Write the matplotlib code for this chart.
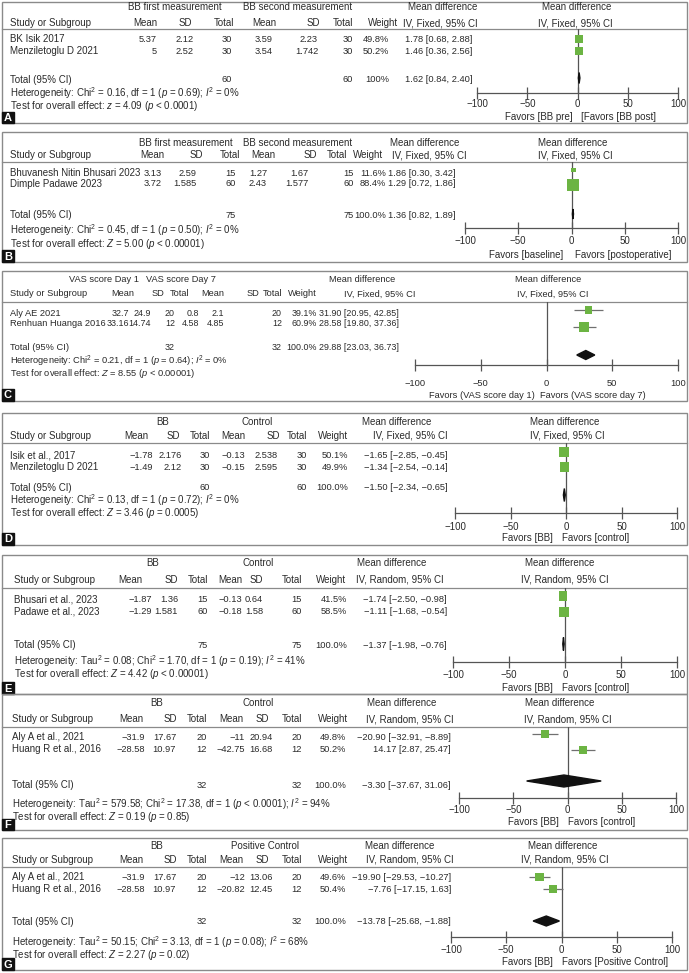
import matplotlib
matplotlib.use('Agg')
import matplotlib.pyplot as plt
from matplotlib.patches import Rectangle, Polygon

plt.rcParams['font.family'] = ['Liberation Sans', 'DejaVu Sans']
plt.rcParams['mathtext.fontset'] = 'custom'
plt.rcParams['mathtext.rm'] = 'Liberation Sans'
plt.rcParams['mathtext.it'] = 'Liberation Sans:italic'
plt.rcParams['mathtext.bf'] = 'Liberation Sans:bold'

# ======================= DATA =======================
# Panel A
a_groups = ["BB first measurement", "BB second measurement"]
a_studies = ["BK Isik 2017", "Menziletoglu D 2021"]
a_mean1 = ["5.37", "5"]
a_sd1 = ["2.12", "2.52"]
a_n1 = [30, 30]
a_mean2 = ["3.59", "3.54"]
a_sd2 = ["2.23", "1.742"]
a_n2 = [30, 30]
a_weight = [49.8, 50.2]
a_md = [1.78, 1.46]
a_lo = [0.68, 0.36]
a_hi = [2.88, 2.56]
a_total = [1.62, 0.84, 2.40]
a_ntot = [60, 60]
a_wtot = "100%"
a_method = "IV, Fixed, 95% CI"
a_favors = ["Favors [BB pre]", "[Favors [BB post]"]
a_het = r"Heterogeneity: Chi$^2$ = 0.16, df = 1 ($p$ = 0.69); $I^2$ = 0%"
a_test = r"Test for overall effect: $z$ = 4.09 ($p$ < 0.0001)"

# Panel B
b_groups = ["BB first measurement", "BB second measurement"]
b_studies = ["Bhuvanesh Nitin Bhusari 2023", "Dimple Padawe 2023"]
b_mean1 = ["3.13", "3.72"]
b_sd1 = ["2.59", "1.585"]
b_n1 = [15, 60]
b_mean2 = ["1.27", "2.43"]
b_sd2 = ["1.67", "1.577"]
b_n2 = [15, 60]
b_weight = [11.6, 88.4]
b_md = [1.86, 1.29]
b_lo = [0.30, 0.72]
b_hi = [3.42, 1.86]
b_total = [1.36, 0.82, 1.89]
b_ntot = [75, 75]
b_wtot = "100.0%"
b_method = "IV, Fixed, 95% CI"
b_favors = ["Favors [baseline]", "Favors [postoperative]"]
b_het = r"Heterogeneity: Chi$^2$ = 0.45, df = 1 ($p$ = 0.50); $I^2$ = 0%"
b_test = r"Test for overall effect: $Z$ = 5.00 ($p$ < 0.00001)"

# Panel C
c_groups = ["VAS score Day 1", "VAS score Day 7"]
c_studies = ["Aly AE 2021", "Renhuan Huanga 2016"]
c_mean1 = ["32.7", "33.16"]
c_sd1 = ["24.9", "14.74"]
c_n1 = [20, 12]
c_mean2 = ["0.8", "4.58"]
c_sd2 = ["2.1", "4.85"]
c_n2 = [20, 12]
c_weight = [39.1, 60.9]
c_md = [31.90, 28.58]
c_lo = [20.95, 19.80]
c_hi = [42.85, 37.36]
c_total = [29.88, 23.03, 36.73]
c_ntot = [32, 32]
c_wtot = "100.0%"
c_method = "IV, Fixed, 95% CI"
c_favors = ["Favors (VAS score day 1)", "Favors (VAS score day 7)"]
c_het = r"Heterogeneity: Chi$^2$ = 0.21, df = 1 ($p$ = 0.64); $I^2$ = 0%"
c_test = r"Test for overall effect: $Z$ = 8.55 ($p$ < 0.00001)"

# Panel D
d_groups = ["BB", "Control"]
d_studies = ["Isik et al., 2017", "Menziletoglu D 2021"]
d_mean1 = ["\u22121.78", "\u22121.49"]
d_sd1 = ["2.176", "2.12"]
d_n1 = [30, 30]
d_mean2 = ["\u22120.13", "\u22120.15"]
d_sd2 = ["2.538", "2.595"]
d_n2 = [30, 30]
d_weight = [50.1, 49.9]
d_md = [-1.65, -1.34]
d_lo = [-2.85, -2.54]
d_hi = [-0.45, -0.14]
d_total = [-1.50, -2.34, -0.65]
d_ntot = [60, 60]
d_wtot = "100.0%"
d_method = "IV, Fixed, 95% CI"
d_favors = ["Favors [BB]", "Favors [control]"]
d_het = r"Heterogeneity: Chi$^2$ = 0.13, df = 1 ($p$ = 0.72); $I^2$ = 0%"
d_test = r"Test for overall effect: $Z$ = 3.46 ($p$ = 0.0005)"

# Panel E
e_groups = ["BB", "Control"]
e_studies = ["Bhusari et al., 2023", "Padawe et al., 2023"]
e_mean1 = ["\u22121.87", "\u22121.29"]
e_sd1 = ["1.36", "1.581"]
e_n1 = [15, 60]
e_mean2 = ["\u22120.13", "\u22120.18"]
e_sd2 = ["0.64", "1.58"]
e_n2 = [15, 60]
e_weight = [41.5, 58.5]
e_md = [-1.74, -1.11]
e_lo = [-2.50, -1.68]
e_hi = [-0.98, -0.54]
e_total = [-1.37, -1.98, -0.76]
e_ntot = [75, 75]
e_wtot = "100.0%"
e_method = "IV, Random, 95% CI"
e_favors = ["Favors [BB]", "Favors [control]"]
e_het = r"Heterogeneity: Tau$^2$ = 0.08; Chi$^2$ = 1.70, df = 1 ($p$ = 0.19); $I^2$ = 41%"
e_test = r"Test for overall effect: $Z$ = 4.42 ($p$ < 0.00001)"

# Panel F
f_groups = ["BB", "Control"]
f_studies = ["Aly A et al., 2021", "Huang R et al., 2016"]
f_mean1 = ["\u221231.9", "\u221228.58"]
f_sd1 = ["17.67", "10.97"]
f_n1 = [20, 12]
f_mean2 = ["\u221211", "\u221242.75"]
f_sd2 = ["20.94", "16.68"]
f_n2 = [20, 12]
f_weight = [49.8, 50.2]
f_md = [-20.90, 14.17]
f_lo = [-32.91, 2.87]
f_hi = [-8.89, 25.47]
f_total = [-3.30, -37.67, 31.06]
f_ntot = [32, 32]
f_wtot = "100.0%"
f_method = "IV, Random, 95% CI"
f_favors = ["Favors [BB]", "Favors [control]"]
f_het = r"Heterogeneity: Tau$^2$ = 579.58; Chi$^2$ = 17.38, df = 1 ($p$ < 0.0001); $I^2$ = 94%"
f_test = r"Test for overall effect: $Z$ = 0.19 ($p$ = 0.85)"

# Panel G
g_groups = ["BB", "Positive Control"]
g_studies = ["Aly A et al., 2021", "Huang R et al., 2016"]
g_mean1 = ["\u221231.9", "\u221228.58"]
g_sd1 = ["17.67", "10.97"]
g_n1 = [20, 12]
g_mean2 = ["\u221212", "\u221220.82"]
g_sd2 = ["13.06", "12.45"]
g_n2 = [20, 12]
g_weight = [49.6, 50.4]
g_md = [-19.90, -7.76]
g_lo = [-29.53, -17.15]
g_hi = [-10.27, 1.63]
g_total = [-13.78, -25.68, -1.88]
g_ntot = [32, 32]
g_wtot = "100.0%"
g_method = "IV, Random, 95% CI"
g_favors = ["Favors [BB]", "Favors [Positive Control]"]
g_het = r"Heterogeneity: Tau$^2$ = 50.15; Chi$^2$ = 3.13, df = 1 ($p$ = 0.08); $I^2$ = 68%"
g_test = r"Test for overall effect: $Z$ = 2.27 ($p$ = 0.02)"

axis_ticks = [-100, -50, 0, 50, 100]

# ======================= LAYOUT (pixels) =======================
W, H = 689, 973
TXT = '#2a2a2a'
GREEN = '#6cb443'
BORDER = '#8a8a8a'

R6 = ['right'] * 6
layouts = {
    'A': dict(fs=7.0, fsn=6.7, box=(2, 123), lab=(112, 123), h1=7, h2=23, sep=29, rows=[39, 51], sq=[39, 51], tot=80, dia=78, dh=5.5,
              het=93, test=106, ax=(477, 678), axy=93, tpad=9, fav=117, favL=573, favR=581, k=1.15,
              sx=10, cols=[157, 194, 232, 273, 318, 353], al=R6, hx=[157, 192, 234, 276, 320, 353],
              wx=389, mdx=405, mdal='left', g=[175, 298], mdh=443, wh=383, ivh=440, mdh2=577, ivh2=575),
    'B': dict(fs=7.0, fsn=6.7, box=(132, 262), lab=(250, 262), h1=143, h2=155, sep=162, rows=[173, 184], sq=[170, 185], tot=215, dia=214, dh=5,
              het=230, test=244, ax=(465, 678), axy=228, tpad=11, fav=255, favL=563, favR=575, k=1.2,
              sx=10, cols=[162, 197, 236, 267, 308, 354], al=R6, hx=[164, 203, 240, 275, 317, 347],
              wx=386, mdx=388, mdal='left', g=[186, 298], mdh=425, wh=368, ivh=429, mdh2=573, ivh2=575),
    'C': dict(fs=6.7, fsn=6.4, box=(271, 401), lab=(389, 401), h1=280, h2=294, sep=302, rows=[313, 324], sq=[310, 327], tot=347, dia=355, dh=4.5,
              het=361, test=374, ax=(415, 678), axy=365, tpad=17, fav=395, favL=535, favR=540, k=1.2,
              sx=10, cols=[129, 151, 175, 199, 224, 282], al=R6,
              hx=[134, 164, 189, 224, 259, 282],
              wx=317, mdx=319, mdal='left', g=[104, 181], mdh=362, wh=302, ivh=380, mdh2=548, ivh2=553),
    'D': dict(fs=7.0, fsn=6.7, box=(413, 545), lab=(533, 545), h1=422, h2=436, sep=443, rows=[456, 467], sq=[452, 467], tot=488, dia=495, dh=6.5,
              het=500, test=513, ax=(455, 677), axy=513, tpad=12, fav=538, favL=553, favR=562, k=1.4,
              sx=10, cols=[153, 182, 210, 245, 278, 307], al=R6, hx=[148, 180, 210, 245, 280, 307],
              wx=348, mdx=448, mdal='right', g=[163, 257], mdh=397, wh=333, ivh=410, mdh2=565, ivh2=567),
    'E': dict(fs=7.0, fsn=6.7, box=(555, 694), lab=(682, 694), h1=563, h2=580, sep=588, rows=[600, 612], sq=[596, 612], tot=645, dia=644, dh=6.5,
              het=661, test=674, ax=(453, 677), axy=662, tpad=11, fav=688, favL=553, favR=562, k=1.3,
              sx=14, cols=[152, 178, 208, 242, 263, 302], al=R6, hx=[142, 178, 208, 242, 263, 302],
              wx=347, mdx=447, mdal='right', g=[153, 258], mdh=392, wh=331, ivh=400, mdh2=560, ivh2=565),
    'F': dict(fs=7.0, fsn=6.7, box=(694, 830), lab=(819, 830), h1=703, h2=719, sep=727, rows=[737, 749], sq=[734, 750], tot=785, dia=781, dh=6,
              het=804, test=817, ax=(459, 676), axy=798, tpad=10, fav=822, favL=559, favR=568, k=1.15,
              sx=12, cols=[145, 176, 207, 245, 273, 302], al=R6, hx=[143, 177, 207, 243, 269, 302],
              wx=346, mdx=451, mdal='right', g=[157, 258], mdh=402, wh=333, ivh=410, mdh2=560, ivh2=568),
    'G': dict(fs=7.0, fsn=6.7, box=(838, 970), lab=(958, 970), h1=846, h2=860, sep=867, rows=[877, 889], sq=[877, 889], tot=922, dia=921, dh=5,
              het=942, test=955, ax=(451, 672), axy=937, tpad=11, fav=962, favL=553, favR=562, k=1.15,
              sx=12, cols=[145, 176, 207, 245, 273, 302], al=R6, hx=[143, 177, 207, 243, 269, 302],
              wx=346, mdx=451, mdal='right', g=[157, 265], mdh=400, wh=333, ivh=410, mdh2=563, ivh2=565),
}

panels = [
    ('A', a_groups, a_studies, a_mean1, a_sd1, a_n1, a_mean2, a_sd2, a_n2, a_weight, a_md, a_lo, a_hi,
     a_total, a_ntot, a_wtot, a_method, a_favors, a_het, a_test),
    ('B', b_groups, b_studies, b_mean1, b_sd1, b_n1, b_mean2, b_sd2, b_n2, b_weight, b_md, b_lo, b_hi,
     b_total, b_ntot, b_wtot, b_method, b_favors, b_het, b_test),
    ('C', c_groups, c_studies, c_mean1, c_sd1, c_n1, c_mean2, c_sd2, c_n2, c_weight, c_md, c_lo, c_hi,
     c_total, c_ntot, c_wtot, c_method, c_favors, c_het, c_test),
    ('D', d_groups, d_studies, d_mean1, d_sd1, d_n1, d_mean2, d_sd2, d_n2, d_weight, d_md, d_lo, d_hi,
     d_total, d_ntot, d_wtot, d_method, d_favors, d_het, d_test),
    ('E', e_groups, e_studies, e_mean1, e_sd1, e_n1, e_mean2, e_sd2, e_n2, e_weight, e_md, e_lo, e_hi,
     e_total, e_ntot, e_wtot, e_method, e_favors, e_het, e_test),
    ('F', f_groups, f_studies, f_mean1, f_sd1, f_n1, f_mean2, f_sd2, f_n2, f_weight, f_md, f_lo, f_hi,
     f_total, f_ntot, f_wtot, f_method, f_favors, f_het, f_test),
    ('G', g_groups, g_studies, g_mean1, g_sd1, g_n1, g_mean2, g_sd2, g_n2, g_weight, g_md, g_lo, g_hi,
     g_total, g_ntot, g_wtot, g_method, g_favors, g_het, g_test),
]


def fnum(v):
    return f"{v:.2f}".replace('-', '\u2212')


def ci_text(m, l, h):
    return f"{fnum(m)} [{fnum(l)}, {fnum(h)}]"


fig = plt.figure(figsize=(W / 100, H / 100), dpi=100)
bg = fig.add_axes([0, 0, 1, 1])
bg.set_xlim(0, W)
bg.set_ylim(H, 0)
bg.axis('off')


def T(x, y, s, fs, ha='left', **kw):
    bg.text(x, y, s, ha=ha, va='center', fontsize=fs, color=kw.pop('color', TXT), **kw)


for (key, groups, studies, m1, s1, n1, m2, s2, n2, wts, md, lo, hi,
     tot, ntot, wtot, method, favors, het, test) in panels:
    L = layouts[key]
    fs, fsn = L['fs'], L['fsn']
    y0, y1 = L['box']
    bg.add_patch(Rectangle((2, y0), 685, y1 - y0, fill=False, edgecolor=BORDER, lw=1.0))
    bg.plot([2, 687], [L['sep'], L['sep']], color=BORDER, lw=0.9)
    # panel letter
    ly0, ly1 = L['lab']
    bg.add_patch(Rectangle((2, ly0), 12, ly1 - ly0, color='#111111'))
    T(8, (ly0 + ly1) / 2 + 0.5, key, 8, ha='center', color='white', fontweight='bold')

    # header row 1
    T(L['g'][0], L['h1'], groups[0], fs, ha='center')
    T(L['g'][1], L['h1'], groups[1], fs, ha='center')
    T(L['mdh'], L['h1'], "Mean difference", fs, ha='center')
    T(L['mdh2'], L['h1'], "Mean difference", fs, ha='center')
    # header row 2
    T(L['sx'], L['h2'], "Study or Subgroup", fs)
    for x, s in zip(L['hx'], ["Mean", "SD", "Total", "Mean", "SD", "Total"]):
        T(x, L['h2'], s, fs, ha='right')
    T(L['wh'], L['h2'], "Weight", fs, ha='center')
    T(L['ivh'], L['h2'], method, fs, ha='center')
    T(L['ivh2'], L['h2'], method, fs, ha='center')

    # study rows
    for i, st in enumerate(studies):
        y = L['rows'][i]
        T(L['sx'], y, st, fs)
        vals = [m1[i], s1[i], str(n1[i]), m2[i], s2[i], str(n2[i])]
        for x, a, v in zip(L['cols'], L['al'], vals):
            T(x, y, v, fsn, ha=a)
        T(L['wx'], y, f"{wts[i]:.1f}%", fsn, ha='right')
        T(L['mdx'], y, ci_text(md[i], lo[i], hi[i]), fsn, ha=L['mdal'])
    # total row
    yt = L['tot']
    T(L['sx'], yt, "Total (95% CI)", fs)
    T(L['cols'][2], yt, str(ntot[0]), fsn, ha='right')
    T(L['cols'][5], yt, str(ntot[1]), fsn, ha='right')
    T(L['wx'], yt, wtot, fsn, ha='right')
    T(L['mdx'], yt, ci_text(*tot), fsn, ha=L['mdal'])
    T(L['sx'], L['het'], het, fs)
    T(L['sx'], L['test'], test, fs)

    # favors labels
    T(L['favL'], L['fav'], favors[0], fs, ha='right')
    T(L['favR'], L['fav'], favors[1], fs, ha='left')

    # forest axes: x in effect units, y in pixel rows
    axl, axr = L['ax']
    top, axy = L['sep'], L['axy']
    ax = fig.add_axes([axl / W, 1 - axy / H, (axr - axl) / W, (axy - top) / H])
    ax.patch.set_visible(False)
    ax.set_xlim(-100, 100)
    ax.set_ylim(axy, top)
    for sp in ['left', 'right', 'top']:
        ax.spines[sp].set_visible(False)
    ax.spines['bottom'].set_color('#555555')
    ax.spines['bottom'].set_linewidth(0.9)
    ax.set_yticks([])
    ax.set_xticks(axis_ticks)
    ax.set_xticklabels([str(t).replace('-', '\u2212') for t in axis_ticks])
    ax.tick_params(axis='x', direction='inout', length=8, width=0.9, color='#555555',
                   labelsize=fs, labelcolor=TXT, pad=(L['tpad'] - 8.5) * 0.72)
    ax.axvline(0, color='#555555', lw=0.9, zorder=1)

    ppu = (axr - axl) / 200.0  # pixels per unit
    for i in range(len(md)):
        y = L['sq'][i]
        ax.plot([lo[i], hi[i]], [y, y], color='#707070', lw=0.9, zorder=2, solid_capstyle='butt')
        side = L['k'] * wts[i] ** 0.5
        hgt = side * 1.1
        ax.add_patch(Rectangle((md[i] - side / 2 / ppu, y - hgt / 2), side / ppu, hgt,
                               facecolor=GREEN, edgecolor='none', zorder=3, clip_on=False))
    m, l, h = tot
    yd, dh = L['dia'], L['dh']
    ax.add_patch(Polygon([(l, yd), (m, yd - dh), (h, yd), (m, yd + dh)], closed=True,
                         facecolor='#111111', edgecolor='#111111', lw=1.0, zorder=3, clip_on=False))

fig.savefig('out.png', dpi=100, facecolor='white')
